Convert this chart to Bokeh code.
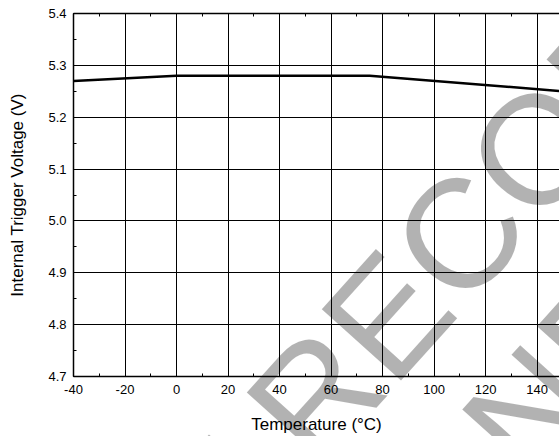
from bokeh.plotting import figure
from bokeh.models import Range1d, LinearAxis, SingleIntervalTicker, PrintfTickFormatter
from bokeh.core.properties import value
from bokeh.embed import file_html
from bokeh.resources import INLINE

# ---- data ----
temperature_c = [-40, 0, 75, 150]
trigger_voltage_v = [5.27, 5.28, 5.28, 5.25]
x_title = "Temperature (°C)"
y_title = "Internal Trigger Voltage (V)"
watermark_lines = ["NOT RECOMMENDED", "FOR NEW DESIGN"]
watermark_x = [-56.1, 26.8]
watermark_y = [4.056, 4.019]

FONT = "Liberation Sans"

p = figure(width=559, height=436, output_backend="svg", toolbar_location=None,
           x_range=Range1d(-40, 148.7), y_range=Range1d(4.7, 5.4),
           min_border_left=73, min_border_right=0, min_border_top=13, min_border_bottom=58,
           background_fill_color="white", border_fill_color="white")
p.outline_line_color = None

bottom_axis = p.below[0]
left_axis = p.left[0]

bottom_axis.ticker = SingleIntervalTicker(interval=20, num_minor_ticks=2)
left_axis.ticker = SingleIntervalTicker(interval=0.1, num_minor_ticks=2)
bottom_axis.formatter = PrintfTickFormatter(format="%d")
left_axis.formatter = PrintfTickFormatter(format="%.1f")

top_axis = LinearAxis(ticker=SingleIntervalTicker(interval=20, num_minor_ticks=2),
                      major_label_text_font_size="0px", major_label_standoff=0,
                      major_label_text_color=None)
p.add_layout(top_axis, "above")

for ax in [bottom_axis, left_axis, top_axis]:
    ax.axis_line_color = "black"
    ax.axis_line_width = 1.5
    ax.major_tick_line_color = "black"
    ax.minor_tick_line_color = "black"
    ax.major_tick_in = 4
    ax.major_tick_out = 0
    ax.minor_tick_in = 3
    ax.minor_tick_out = 0

for ax in [bottom_axis, left_axis]:
    ax.major_label_text_font = FONT
    ax.major_label_text_font_size = "13px"
    ax.major_label_text_color = "black"
    ax.axis_label_text_font = FONT
    ax.axis_label_text_font_size = "17px"
    ax.axis_label_text_font_style = "normal"
    ax.axis_label_text_color = "black"

bottom_axis.axis_label = x_title
left_axis.axis_label = y_title
bottom_axis.major_label_standoff = 8
left_axis.major_label_standoff = 7
bottom_axis.axis_label_standoff = 18
left_axis.axis_label_standoff = 18

for g in [p.xgrid[0], p.ygrid[0]]:
    g.grid_line_color = "black"
    g.grid_line_width = 1

p.line(temperature_c, trigger_voltage_v, line_color="black", line_width=2.5)

p.text(x=watermark_x, y=watermark_y, text=watermark_lines, angle=0.838,
       text_font=value(FONT), text_font_size="155px", text_color="black",
       text_alpha=0.3, text_align="left", text_baseline="alphabetic", level="overlay")

open("out.html", "w").write(file_html(p, INLINE))
